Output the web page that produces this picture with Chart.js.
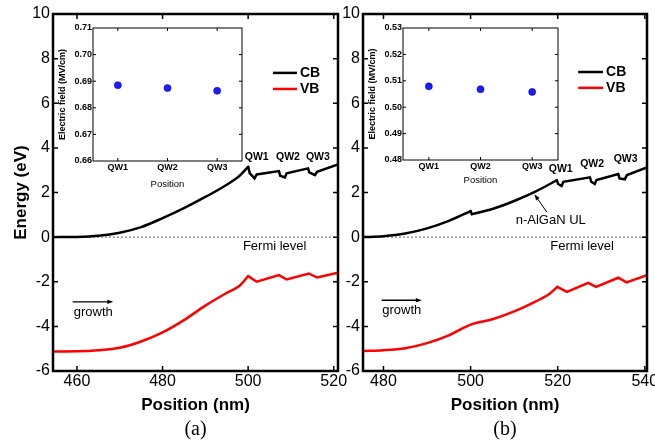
<!DOCTYPE html>
<html><head><meta charset="utf-8">
<script src="https://cdn.jsdelivr.net/npm/chart.js@4.4.1/dist/chart.umd.min.js"></script>
<style>
html,body{margin:0;padding:0;background:#fff;}
#wrap{position:relative;width:655px;height:443px;overflow:hidden;background:#fff;}
canvas{position:absolute;left:0;top:0;}
</style></head><body>
<div id="wrap">
<canvas id="mainA" width="655" height="443"></canvas>
<canvas id="mainB" width="655" height="443"></canvas>
<canvas id="insetA" width="655" height="443"></canvas>
<canvas id="insetB" width="655" height="443"></canvas>
</div>
<script>
// ---------- data ----------
const energyTicks = [-6, -4, -2, 0, 2, 4, 6, 8, 10];
const positionTicksA = [460, 480, 500, 520];
const positionTicksB = [480, 500, 520, 540];
const fermiLevel = 0;

// panel (a)
const cbPosA = [454.5, 460, 465, 470, 475, 480, 485, 490, 495, 498, 500, 500.4, 501.5, 502, 507.2, 507.5, 508.6, 509, 514, 514.3, 515.6, 516.1, 521];
const cbA    = [0, 0.01, 0.06, 0.2, 0.45, 0.85, 1.3, 1.8, 2.35, 2.75, 3.15, 2.86, 2.63, 2.81, 2.96, 2.75, 2.68, 2.86, 3.08, 2.9, 2.78, 2.93, 3.26];
const vbPosA = [454.5, 460, 465, 470, 475, 480, 485, 490, 495, 498, 500, 502, 507.2, 509, 514.2, 516.1, 521];
const vbA    = [-5.13, -5.12, -5.07, -4.96, -4.68, -4.27, -3.72, -3.07, -2.5, -2.18, -1.75, -2.0, -1.7, -1.9, -1.63, -1.81, -1.6];

// panel (b)
const cbPosB = [475.3, 480, 485, 490, 495, 500, 500.3, 505, 510, 515, 519.8, 520.1, 520.9, 521.3, 527.4, 527.7, 528.5, 528.9, 533.9, 534.2, 535.4, 535.9, 540.5];
const cbB    = [0, 0.04, 0.16, 0.39, 0.73, 1.17, 1.03, 1.26, 1.62, 2.05, 2.55, 2.38, 2.29, 2.48, 2.68, 2.48, 2.38, 2.56, 2.83, 2.63, 2.59, 2.78, 3.12];
const vbPosB = [475.3, 480, 485, 490, 495, 500, 505, 510, 515, 518.2, 519.9, 522.1, 527, 528.8, 533.9, 535.8, 540.5];
const vbB    = [-5.1, -5.07, -4.98, -4.75, -4.4, -3.92, -3.68, -3.33, -2.88, -2.53, -2.23, -2.45, -2.05, -2.23, -1.82, -2.03, -1.7];

// smooth (curved) stretches of each band; outside them the band is drawn with straight segments
const smoothA_cb = [[454.5, 500]];
const smoothA_vb = [[454.5, 500]];
const smoothB_cb = [[475.3, 500], [500.3, 519.8]];
const smoothB_vb = [[475.3, 519.9]];

// insets
const qwLabels = ['QW1', 'QW2', 'QW3'];
const fieldA = [0.6885, 0.6874, 0.6864];
const fieldB = [0.5079, 0.5068, 0.5058];
const fieldTicksA = [0.66, 0.67, 0.68, 0.69, 0.70, 0.71];
const fieldTicksB = [0.48, 0.49, 0.50, 0.51, 0.52, 0.53];

// ---------- helpers ----------
const FONT = '"Liberation Sans", Arial, Helvetica, sans-serif';
const SERIF = '"Liberation Serif", "Times New Roman", serif';

// split a band into pieces: curved pieces (monotone) and straight pieces
function bandDatasets(label, xs, ys, smooth, color) {
  const inSmooth = (a, b) => smooth.some(r => a >= r[0] - 1e-9 && b <= r[1] + 1e-9);
  const pieces = [];
  let cur = null;
  for (let i = 0; i < xs.length - 1; i++) {
    const type = inSmooth(xs[i], xs[i + 1]) ? 'monotone' : 'default';
    if (!cur || cur.type !== type) {
      cur = {type: type, pts: [{x: xs[i], y: ys[i]}]};
      pieces.push(cur);
    }
    cur.pts.push({x: xs[i + 1], y: ys[i + 1]});
  }
  return pieces.map(p => ({
    label: label, data: p.pts, borderColor: color, borderWidth: 2.5, pointRadius: 0, fill: false,
    cubicInterpolationMode: p.type, tension: 0, borderCapStyle: 'round', borderJoinStyle: 'miter'
  }));
}

const annots = {
  mainA: {
    caption: '(a)',
    items: [
      {type:'text', text:'QW1', x:502.0, y:3.59, font:'bold 10.5px ' + FONT},
      {type:'text', text:'QW2', x:509.3, y:3.59, font:'bold 10.5px ' + FONT},
      {type:'text', text:'QW3', x:516.3, y:3.59, font:'bold 10.5px ' + FONT},
      {type:'text', text:'Fermi level', x:506.2, y:-0.43, font:'13px ' + FONT},
      {type:'arrow', x1:459.0, y1:-2.9, x2:468.5, y2:-2.9, w:1.3},
      {type:'text', text:'growth', x:463.8, y:-3.38, font:'13px ' + FONT},
      {type:'line', x1:505.8, x2:511.4, y1:7.36, y2:7.36, w:2.5, color:'#000'},
      {type:'text', text:'CB', x:512.1, y:7.36, font:'bold 14px ' + FONT, align:'left'},
      {type:'line', x1:505.8, x2:511.4, y1:6.64, y2:6.64, w:2.5, color:'#ff0000'},
      {type:'text', text:'VB', x:512.1, y:6.64, font:'bold 14px ' + FONT, align:'left'}
    ]
  },
  mainB: {
    caption: '(b)',
    items: [
      {type:'text', text:'QW1', x:520.7, y:3.04, font:'bold 10.5px ' + FONT},
      {type:'text', text:'QW2', x:527.9, y:3.27, font:'bold 10.5px ' + FONT},
      {type:'text', text:'QW3', x:535.6, y:3.49, font:'bold 10.5px ' + FONT},
      {type:'text', text:'Fermi level', x:525.6, y:-0.43, font:'13px ' + FONT},
      {type:'text', text:'n-AlGaN UL', x:518.4, y:0.77, font:'13px ' + FONT},
      {type:'arrow', x1:517.5, y1:1.12, x2:514.66, y2:1.92, w:1},
      {type:'arrow', x1:479.6, y1:-2.83, x2:488.8, y2:-2.83, w:1.3},
      {type:'text', text:'growth', x:484.2, y:-3.29, font:'13px ' + FONT},
      {type:'line', x1:524.7, x2:530.4, y1:7.4, y2:7.4, w:2.5, color:'#000'},
      {type:'text', text:'CB', x:531.1, y:7.4, font:'bold 14px ' + FONT, align:'left'},
      {type:'line', x1:524.7, x2:530.4, y1:6.69, y2:6.69, w:2.5, color:'#ff0000'},
      {type:'text', text:'VB', x:531.1, y:6.69, font:'bold 14px ' + FONT, align:'left'}
    ]
  }
};

const frameCfg = {
  mainA: {lw:2.5, tick:5, tickW:1.5},
  mainB: {lw:2.5, tick:5, tickW:1.5},
  insetA: {lw:1, tick:3, tickW:1, bg:'#fff'},
  insetB: {lw:1, tick:3, tickW:1, bg:'#fff'}
};

const framePlugin = {
  id: 'frameTicks',
  beforeDraw(chart) {
    const c = frameCfg[chart.canvas.id];
    if (!c || !c.bg) return;
    const a = chart.chartArea, ctx = chart.ctx;
    ctx.save(); ctx.fillStyle = c.bg;
    ctx.fillRect(a.left, a.top, a.right - a.left, a.bottom - a.top);
    ctx.restore();
  },
  afterDraw(chart) {
    const c = frameCfg[chart.canvas.id];
    if (!c) return;
    const a = chart.chartArea, ctx = chart.ctx;
    const xs = chart.scales.x, ys = chart.scales.y;
    ctx.save();
    ctx.strokeStyle = '#000';
    ctx.lineWidth = c.tickW;
    ctx.beginPath();
    ys.ticks.forEach((t, i) => {
      const p = ys.getPixelForTick(i);
      if (p <= a.top + 1 || p >= a.bottom - 1) return;
      ctx.moveTo(a.left, p); ctx.lineTo(a.left + c.tick, p);
      ctx.moveTo(a.right, p); ctx.lineTo(a.right - c.tick, p);
    });
    xs.ticks.forEach((t, i) => {
      const p = xs.getPixelForTick(i);
      if (p <= a.left + 1 || p >= a.right - 1) return;
      ctx.moveTo(p, a.bottom); ctx.lineTo(p, a.bottom - c.tick);
      ctx.moveTo(p, a.top); ctx.lineTo(p, a.top + c.tick);
    });
    ctx.stroke();
    ctx.lineWidth = c.lw;
    ctx.strokeRect(a.left, a.top, a.right - a.left, a.bottom - a.top);
    ctx.restore();
  }
};

const annotPlugin = {
  id: 'annot',
  afterDraw(chart) {
    const o = annots[chart.canvas.id];
    if (!o) return;
    const ctx = chart.ctx, xs = chart.scales.x, ys = chart.scales.y, a = chart.chartArea;
    const X = v => xs.getPixelForValue(v), Y = v => ys.getPixelForValue(v);
    ctx.save();
    o.items.forEach(it => {
      if (it.type === 'text') {
        ctx.font = it.font; ctx.fillStyle = it.color || '#000';
        ctx.textAlign = it.align || 'center'; ctx.textBaseline = 'middle';
        ctx.fillText(it.text, X(it.x), Y(it.y));
      } else if (it.type === 'line') {
        ctx.strokeStyle = it.color || '#000'; ctx.lineWidth = it.w;
        ctx.beginPath(); ctx.moveTo(X(it.x1), Y(it.y1)); ctx.lineTo(X(it.x2), Y(it.y2)); ctx.stroke();
      } else if (it.type === 'arrow') {
        const x1 = X(it.x1), y1 = Y(it.y1), x2 = X(it.x2), y2 = Y(it.y2);
        const ang = Math.atan2(y2 - y1, x2 - x1), L = 6, W = 2.2;
        ctx.strokeStyle = '#000'; ctx.fillStyle = '#000'; ctx.lineWidth = it.w;
        ctx.beginPath(); ctx.moveTo(x1, y1);
        ctx.lineTo(x2 - Math.cos(ang) * L * 0.8, y2 - Math.sin(ang) * L * 0.8); ctx.stroke();
        ctx.beginPath();
        ctx.moveTo(x2, y2);
        ctx.lineTo(x2 - L * Math.cos(ang) + W * Math.sin(ang), y2 - L * Math.sin(ang) - W * Math.cos(ang));
        ctx.lineTo(x2 - L * Math.cos(ang) - W * Math.sin(ang), y2 - L * Math.sin(ang) + W * Math.cos(ang));
        ctx.closePath(); ctx.fill();
      }
    });
    if (o.caption) {
      ctx.font = '20px ' + SERIF; ctx.fillStyle = '#000';
      ctx.textAlign = 'center'; ctx.textBaseline = 'middle';
      ctx.fillText(o.caption, (a.left + a.right) / 2, a.bottom + 59);
    }
    ctx.restore();
  }
};

function mainChart(id, o) {
  const datasets = []
    .concat(bandDatasets('CB', o.cbPos, o.cb, o.cbSmooth, '#000'))
    .concat(bandDatasets('VB', o.vbPos, o.vb, o.vbSmooth, '#ff0000'));
  datasets.push({label:'Fermi level', data: [{x:o.xMin, y:fermiLevel}, {x:o.xMax, y:fermiLevel}],
    borderColor:'#666', borderWidth:1, borderDash:[2,2], pointRadius:0, fill:false});
  return new Chart(document.getElementById(id), {
    type: 'line',
    data: { datasets: datasets },
    options: {
      responsive:false, animation:false, devicePixelRatio:1,
      layout: {padding: {left:o.padLeft, right:o.padRight, top:14, bottom:0}},
      plugins: {legend:{display:false}, tooltip:{enabled:false}},
      scales: {
        x: {
          type:'linear', min:o.xMin, max:o.xMax,
          afterBuildTicks(s) { s.ticks = o.xTicks.map(v => ({value:v})); },
          afterFit(s) { s.height = 72; s.paddingLeft = 0; s.paddingRight = 0; },
          grid:{display:false, drawTicks:false}, border:{display:false},
          ticks:{font:{family:FONT, size:16}, color:'#000', padding:1, maxRotation:0, autoSkip:false, callback: v => String(v)},
          title:{display:true, text:'Position (nm)', color:'#000', font:{family:FONT, size:17, weight:'bold'}, padding:{top:0, bottom:27.8}}
        },
        y: {
          type:'linear', min:-6, max:10,
          afterBuildTicks(s) { s.ticks = energyTicks.map(v => ({value:v})); },
          afterFit(s) { s.width = o.yW; s.paddingTop = 0; s.paddingBottom = 0; },
          grid:{display:false, drawTicks:false}, border:{display:false},
          ticks:{font:{family:FONT, size:16}, color:'#000', padding:3, autoSkip:false, callback: v => String(v)},
          title:{display:o.yTitle, text:'Energy (eV)', color:'#000', font:{family:FONT, size:17, weight:'bold'}, padding:{top:11.5, bottom:0}}
        }
      }
    },
    plugins: [framePlugin, annotPlugin]
  });
}

function insetChart(id, o) {
  return new Chart(document.getElementById(id), {
    type: 'line',
    data: {
      labels: qwLabels,
      datasets: [{label:'Electric field', data:o.field, showLine:false, pointRadius:3.5,
        pointBackgroundColor:'#1c1cff', pointBorderColor:'#0000b8', pointBorderWidth:0.6}]
    },
    options: {
      responsive:false, animation:false, devicePixelRatio:1,
      layout: {padding: {left:o.padLeft, right:o.padRight, top:28, bottom:o.padBottom}},
      plugins: {legend:{display:false}, tooltip:{enabled:false}},
      scales: {
        x: {
          type:'category', offset:true,
          afterFit(s) { s.height = 30; s.paddingLeft = 0; s.paddingRight = 0; },
          grid:{display:false, drawTicks:false, offset:true}, border:{display:false},
          ticks:{font:{family:FONT, size:9, weight:'bold'}, color:'#000', padding:1.5, maxRotation:0, autoSkip:false},
          title:{display:true, text:'Position', color:'#000', font:{family:FONT, size:9.5}, padding:{top:0, bottom:o.xTitlePad}}
        },
        y: {
          type:'linear', min:o.yMin, max:o.yMax,
          afterBuildTicks(s) { s.ticks = o.yTicks.map(v => ({value:v})); },
          afterFit(s) { s.width = 38; s.paddingTop = 0; s.paddingBottom = 0; },
          grid:{display:false, drawTicks:false}, border:{display:false},
          ticks:{font:{family:FONT, size:9, weight:'bold'}, color:'#000', padding:1, autoSkip:false, callback: v => Number(v).toFixed(2)},
          title:{display:true, text:'Electric field (MV/cm)', color:'#000', font:{family:FONT, size:9, weight:'bold'}, padding:{top:2.6, bottom:0}}
        }
      }
    },
    plugins: [framePlugin]
  });
}

mainChart('mainA', {cbPos:cbPosA, cb:cbA, vbPos:vbPosA, vb:vbA, cbSmooth:smoothA_cb, vbSmooth:smoothA_vb,
  xMin:454.4, xMax:521, xTicks:positionTicksA, padLeft:0, padRight:317, yW:53, yTitle:true});
mainChart('mainB', {cbPos:cbPosB, cb:cbB, vbPos:vbPosB, vb:vbB, cbSmooth:smoothB_cb, vbSmooth:smoothB_vb,
  xMin:475.3, xMax:540.5, xTicks:positionTicksB, padLeft:333, padRight:8, yW:30, yTitle:false});
insetChart('insetA', {field:fieldA, yMin:0.66, yMax:0.71, yTicks:fieldTicksA, padLeft:55, padRight:413, padBottom:252, xTitlePad:1.3});
insetChart('insetB', {field:fieldB, yMin:0.48, yMax:0.53, yTicks:fieldTicksB, padLeft:365, padRight:97, padBottom:253, xTitlePad:4.3});
</script>
</body></html>
